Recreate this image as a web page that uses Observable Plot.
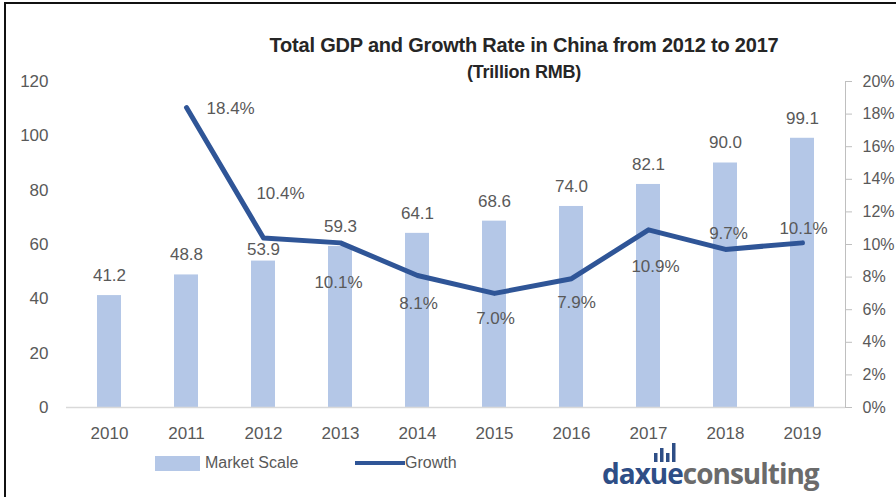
<!DOCTYPE html>
<html>
<head>
<meta charset="utf-8">
<script src="https://cdn.jsdelivr.net/npm/d3@7"></script>
<script src="https://cdn.jsdelivr.net/npm/@observablehq/plot@0.6"></script>
<style>
  html, body { margin: 0; padding: 0; background: #fff; }
  #wrap { position: relative; width: 896px; height: 497px; overflow: hidden; background: #fff;
          font-family: "Liberation Sans", Arial, sans-serif; }
  #chart { position: absolute; left: 0; top: 0; }
  .bTop { position: absolute; left: 4px; top: 2px; width: 892px; height: 2px; background: #111; }
  .bLeft { position: absolute; left: 4px; top: 2px; width: 2px; height: 495px; background: #111; }
  .title { position: absolute; left: 0; width: 1048px; text-align: center; font-weight: bold;
           color: #262626; line-height: 22px; letter-spacing: -0.2px; }
  .legend { position: absolute; top: 454px; font-size: 16px; color: #595959; display: flex; align-items: center; }
  .logo { position: absolute; left: 602px; top: 456px; font-family: "Open Sans", sans-serif; font-weight: 700;
          font-size: 28px; letter-spacing: -1px; line-height: 34px; }
  .logo .dx { position: relative; color: #2E4E86; }
  .logo svg { position: absolute; right: 3px; top: -12px; }
</style>
</head>
<body>
<div id="wrap">
  <div id="chart"></div>
  <div class="bTop"></div>
  <div class="bLeft"></div>
  <div class="title" style="top:34px;font-size:20px">Total GDP and Growth Rate in China from 2012 to 2017</div>
  <div class="title" style="top:61px;font-size:18px">(Trillion RMB)</div>
  <div class="legend" style="left:155px"><span style="display:inline-block;width:45px;height:15px;background:#B4C7E7;margin-right:5px"></span>Market Scale</div>
  <div class="legend" style="left:355px"><span style="display:inline-block;width:50px;height:4px;background:#2F5597;"></span>Growth</div>
  <div class="logo"><span class="dx">daxue<svg width="28" height="20">
    <rect x="2" y="11" width="3.5" height="9" fill="#2E4E86"/>
    <rect x="8" y="6" width="3.5" height="14" fill="#2E4E86"/>
    <rect x="14" y="11" width="3.5" height="9" fill="#2E4E86"/>
    <rect x="20" y="1" width="3.5" height="19" fill="#2E4E86"/>
  </svg></span><span style="color:#6B6B6B">consulting</span></div>
</div>
<script>
const years = ["2010","2011","2012","2013","2014","2015","2016","2017","2018","2019"];
const marketScale = [41.2, 48.8, 53.9, 59.3, 64.1, 68.6, 74.0, 82.1, 90.0, 99.1];
const growth = [null, 18.4, 10.4, 10.1, 8.1, 7.0, 7.9, 10.9, 9.7, 10.1];
const leftTicks = [0, 20, 40, 60, 80, 100, 120];
const rightTicks = [0, 2, 4, 6, 8, 10, 12, 14, 16, 18, 20];

// label offsets (pixels), styling only
const barLabelDy = [-20, -20, -12, -20, -20, -20, -20, -20, -20, -20];
const growthLabelDx = [0, 20, 17, -2, 1, 1, 5, 7, 3, 1];
const growthLabelDy = [0, 1, -44, 40, 28, 25, 24, 37, -16, -14];

const FONT = '"Liberation Sans", Arial, sans-serif';
const ratio = 120 / 20; // right axis 0–20% maps to left axis 0–120

const table = years.map((year, i) => ({year, gdp: marketScale[i], growth: growth[i], i}));
const lineData = table.filter(d => d.growth != null);

const marks = [
  Plot.barY(table, {x: "year", y: "gdp", fill: "#B4C7E7"}),
  Plot.ruleY([0], {stroke: "#D9D9D9", strokeWidth: 1.5}),
  Plot.axisX({tickSize: 0, tickPadding: 19, label: null, fontSize: 17}),
  Plot.axisY({anchor: "left", ticks: leftTicks, tickSize: 0, tickPadding: 18, label: null, fontSize: 17}),
  Plot.axisY({anchor: "right", ticks: rightTicks.map(t => t * ratio), tickFormat: d => Math.round(d / ratio) + "%",
              tickSize: 6, tickPadding: 11, label: null, stroke: "#BFBFBF", fontSize: 16}),
  Plot.frame({anchor: "right", stroke: "#BFBFBF"}),
  Plot.lineY(lineData, {x: "year", y: d => d.growth * ratio, stroke: "#2F5597", strokeWidth: 5,
                        strokeLinejoin: "round", strokeLinecap: "round"})
];
table.forEach(d => {
  marks.push(Plot.text([d], {x: "year", y: "gdp", text: v => v.gdp.toFixed(1), dy: barLabelDy[d.i],
                             fill: "#595959", fontSize: 17}));
});
lineData.forEach(d => {
  marks.push(Plot.text([d], {x: "year", y: v => v.growth * ratio, text: v => v.growth.toFixed(1) + "%",
                             dx: growthLabelDx[d.i], dy: growthLabelDy[d.i],
                             textAnchor: d.i === 1 ? "start" : "middle", fill: "#595959", fontSize: 17}));
});

const chart = Plot.plot({
  width: 896, height: 450,
  marginTop: 81, marginBottom: 43, marginLeft: 66, marginRight: 51,
  style: {fontFamily: FONT, fontSize: "17px", color: "#595959", background: "transparent"},
  x: {domain: years, paddingInner: 0.69, paddingOuter: 0.345, label: null},
  y: {domain: [0, 120], label: null},
  marks
});
document.getElementById("chart").appendChild(chart);
</script>
</body>
</html>
